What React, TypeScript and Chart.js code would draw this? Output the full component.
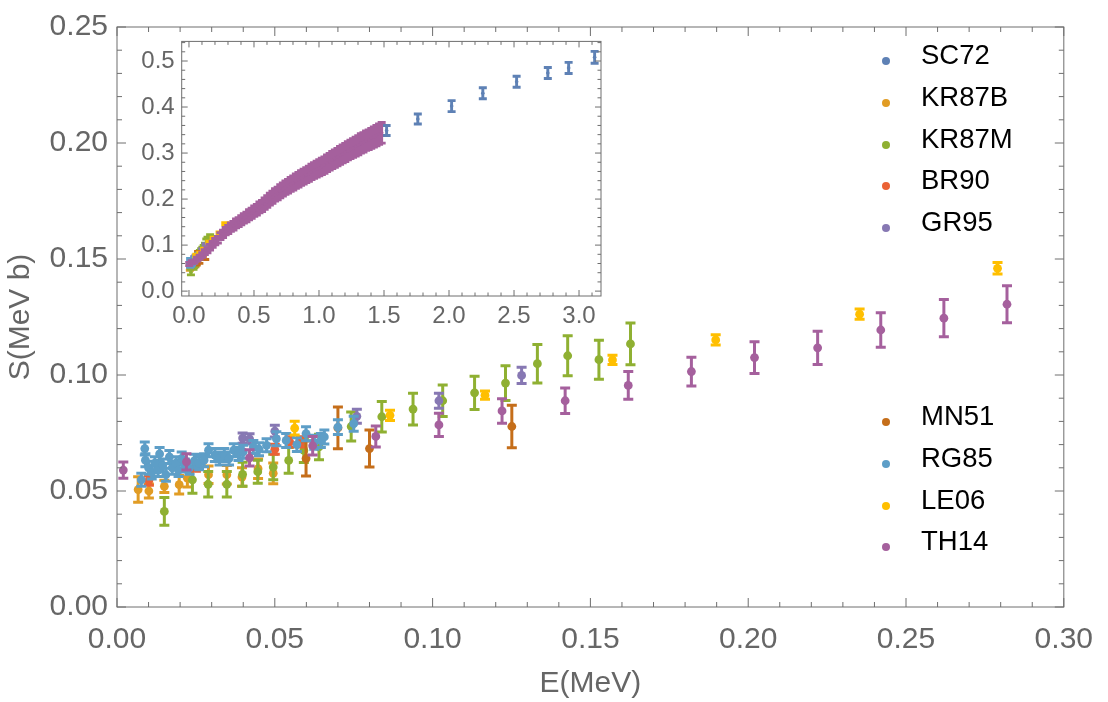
import React, { useEffect, useRef } from "react";
import { Chart, registerables } from "chart.js";
Chart.register(...registerables);

const FONT = '"Liberation Sans", Arial, Helvetica, sans-serif';

const seriesNames = ["SC72", "KR87B", "KR87M", "BR90", "GR95", "MN51", "RG85", "LE06", "TH14"];
const seriesColors = ["#5E81B5", "#E19C24", "#8FB032", "#EB6235", "#8778B3", "#C56E1A", "#5D9EC7", "#FFBF00", "#A5609D"];

const sc72E = [1.52, 1.76, 2.02, 2.26, 2.52, 2.76, 2.92, 3.12];
const sc72S = [0.349, 0.374, 0.402, 0.43, 0.455, 0.474, 0.485, 0.508];
const sc72Err = [0.011, 0.011, 0.012, 0.012, 0.012, 0.012, 0.012, 0.013];

const kr87bE = [0.0067, 0.0101, 0.015, 0.0197, 0.0223, 0.029, 0.0348, 0.0396, 0.0447, 0.0495];
const kr87bS = [0.0506, 0.05, 0.052, 0.0527, 0.0555, 0.057, 0.057, 0.056, 0.0596, 0.0576];
const kr87bErr = [0.0055, 0.003, 0.0026, 0.004, 0.0038, 0.0038, 0.004, 0.004, 0.0042, 0.0045];

const kr87mE = [0.015, 0.0239, 0.0289, 0.0348, 0.0398, 0.0446, 0.0495, 0.0544, 0.0592, 0.064, 0.0742, 0.0839, 0.0938, 0.1032, 0.1133, 0.1231, 0.1332, 0.1428, 0.1527, 0.1627];
const kr87mS = [0.0412, 0.0548, 0.0529, 0.0529, 0.0572, 0.0583, 0.0603, 0.0632, 0.0675, 0.069, 0.0778, 0.082, 0.0853, 0.0889, 0.0923, 0.0965, 0.1049, 0.1083, 0.1066, 0.1134];
const kr87mErr = [0.006, 0.0058, 0.0055, 0.0055, 0.0052, 0.005, 0.0055, 0.0055, 0.0052, 0.0055, 0.0062, 0.0066, 0.0068, 0.0068, 0.0072, 0.0075, 0.0083, 0.0086, 0.0084, 0.009];

const br90E = [0.0101, 0.025, 0.05, 0.0547, 0.0583];
const br90S = [0.0545, 0.0605, 0.068, 0.0712, 0.0712];
const br90Err = [0.002, 0.002, 0.0022, 0.0022, 0.0022];

const gr95E = [0.0398, 0.042, 0.05, 0.076, 0.102, 0.1282];
const gr95S = [0.0728, 0.0725, 0.0758, 0.0822, 0.0889, 0.0998];
const gr95Err = [0.0022, 0.0022, 0.0025, 0.003, 0.0032, 0.0035];

const mn51E = [0.0599, 0.07, 0.08, 0.1251];
const mn51S = [0.064, 0.0772, 0.0683, 0.0778];
const mn51Err = [0.0075, 0.009, 0.008, 0.0092];

const rg85E = [0.0077, 0.0088, 0.009, 0.01, 0.011, 0.012, 0.013, 0.0135, 0.0145, 0.0155, 0.0166, 0.0175, 0.0187, 0.0195, 0.0205, 0.0215, 0.023, 0.0245, 0.026, 0.0276, 0.029, 0.031, 0.0325, 0.034, 0.0355, 0.037, 0.0385, 0.04, 0.0432, 0.045, 0.0474, 0.0505, 0.0536, 0.057, 0.0599, 0.0625, 0.0646, 0.0657, 0.07, 0.075];
const rg85S = [0.0548, 0.0683, 0.0633, 0.06, 0.058, 0.062, 0.059, 0.066, 0.061, 0.057, 0.0647, 0.06, 0.062, 0.059, 0.064, 0.061, 0.06, 0.063, 0.062, 0.0633, 0.0676, 0.0655, 0.064, 0.0655, 0.064, 0.0676, 0.066, 0.0669, 0.069, 0.068, 0.0697, 0.0725, 0.0718, 0.07, 0.0747, 0.071, 0.0718, 0.0733, 0.0775, 0.079];
const rg85Err = [0.0028, 0.0028, 0.0028, 0.0028, 0.0028, 0.0028, 0.0028, 0.0028, 0.0028, 0.0028, 0.0028, 0.0028, 0.0028, 0.0028, 0.0028, 0.0028, 0.0028, 0.0028, 0.0028, 0.0028, 0.0028, 0.0028, 0.0028, 0.0028, 0.0028, 0.0028, 0.0028, 0.0028, 0.0028, 0.0028, 0.0028, 0.003, 0.003, 0.003, 0.003, 0.003, 0.003, 0.003, 0.0032, 0.0032];

const le06E = [0.0563, 0.0865, 0.1166, 0.157, 0.1897, 0.2353, 0.279];
const le06S = [0.0771, 0.0826, 0.0913, 0.1065, 0.1151, 0.1262, 0.146];
const le06Err = [0.003, 0.0022, 0.0018, 0.002, 0.0022, 0.0022, 0.0025];

const th14E = [0.002, 0.022, 0.042, 0.062, 0.082, 0.102, 0.122, 0.142, 0.162, 0.182, 0.202, 0.222, 0.242, 0.262, 0.282,
  0.302, 0.322, 0.342, 0.362, 0.382, 0.402, 0.422, 0.442, 0.462, 0.482, 0.502, 0.522, 0.542, 0.562, 0.582,
  0.602, 0.622, 0.642, 0.662, 0.682, 0.702, 0.722, 0.742, 0.762, 0.782, 0.802, 0.822, 0.842, 0.862, 0.882,
  0.902, 0.922, 0.942, 0.962, 0.982, 1.002,
  1.022, 1.042, 1.062, 1.082, 1.102, 1.122, 1.142, 1.162, 1.182, 1.202, 1.222, 1.242, 1.262, 1.282, 1.302, 1.322, 1.342, 1.362, 1.382, 1.402, 1.422, 1.442, 1.462, 1.482];
const th14S = [0.059, 0.0626, 0.0643, 0.0695, 0.0735, 0.0785, 0.0845, 0.0889, 0.0955, 0.1015, 0.1075, 0.1117, 0.1194, 0.1245, 0.1305,
  0.134, 0.139, 0.142, 0.147, 0.15, 0.154, 0.158, 0.161, 0.166, 0.169, 0.174, 0.177, 0.182, 0.185, 0.19,
  0.195, 0.2, 0.204, 0.209, 0.212, 0.217, 0.221, 0.225, 0.228, 0.232, 0.235, 0.239, 0.242, 0.246, 0.249,
  0.252, 0.255, 0.259, 0.262, 0.265, 0.268,
  0.271, 0.274, 0.278, 0.281, 0.285, 0.288, 0.291, 0.295, 0.298, 0.301, 0.305, 0.308, 0.311, 0.314, 0.317, 0.321, 0.323, 0.327, 0.329, 0.332, 0.335, 0.338, 0.341, 0.344];
const th14Err = [0.0035, 0.0035, 0.0035, 0.004, 0.0045, 0.005, 0.0053, 0.0055, 0.006, 0.0062, 0.0068, 0.0072, 0.0074, 0.008, 0.008,
  0.0088, 0.009, 0.0093, 0.0096, 0.0098, 0.01, 0.0103, 0.0105, 0.0108, 0.011, 0.0113, 0.0115, 0.0118, 0.012, 0.0123,
  0.0126, 0.0129, 0.0132, 0.0135, 0.0137, 0.014, 0.0143, 0.0146, 0.0148, 0.015, 0.0152, 0.0155, 0.0157, 0.0159, 0.0161,
  0.0163, 0.0165, 0.0168, 0.017, 0.0172, 0.0174,
  0.0176, 0.0178, 0.018, 0.0182, 0.0185, 0.0187, 0.0189, 0.0192, 0.0194, 0.0196, 0.0198, 0.02, 0.0202, 0.0204, 0.0206, 0.0208, 0.021, 0.0212, 0.0214, 0.0216, 0.0218, 0.022, 0.0222, 0.0224];

const mainXTicks = [0, 0.05, 0.1, 0.15, 0.2, 0.25, 0.3];
const mainYTicks = [0, 0.05, 0.1, 0.15, 0.2, 0.25];
const insetXTicks = [0, 0.5, 1, 1.5, 2, 2.5, 3];
const insetYTicks = [0, 0.1, 0.2, 0.3, 0.4, 0.5];

const seriesE = [sc72E, kr87bE, kr87mE, br90E, gr95E, mn51E, rg85E, le06E, th14E];
const seriesS = [sc72S, kr87bS, kr87mS, br90S, gr95S, mn51S, rg85S, le06S, th14S];
const seriesErr = [sc72Err, kr87bErr, kr87mErr, br90Err, gr95Err, mn51Err, rg85Err, le06Err, th14Err];

function makeDatasets(radius: number) {
  return seriesNames.map((name, i) => ({
    label: name,
    data: seriesE[i].map((x, j) => ({ x, y: seriesS[i][j], e: seriesErr[i][j] })),
    backgroundColor: seriesColors[i],
    borderColor: seriesColors[i],
    pointRadius: radius,
    pointHoverRadius: radius,
    pointBorderWidth: 0,
    showLine: false,
    order: seriesNames.length - 1 - i,
  }));
}

const errorBarPlugin = {
  id: "errbars",
  beforeDatasetDraw(chart: any, args: any, o: any) {
    const { ctx, chartArea: a, scales } = chart;
    const ys = scales.y;
    const ds = chart.data.datasets[args.index];
    ctx.save();
    ctx.beginPath();
    ctx.rect(a.left, a.top, a.right - a.left, a.bottom - a.top);
    ctx.clip();
    ctx.strokeStyle = ds.backgroundColor;
    ctx.lineWidth = o.lw;
    ctx.lineCap = "butt";
    ctx.beginPath();
    args.meta.data.forEach((pt: any, j: number) => {
      const d = ds.data[j];
      const x = pt.x;
      const y1 = ys.getPixelForValue(d.y + d.e);
      const y2 = ys.getPixelForValue(d.y - d.e);
      ctx.moveTo(x, y1);
      ctx.lineTo(x, y2);
      ctx.moveTo(x - o.cap, y1);
      ctx.lineTo(x + o.cap, y1);
      ctx.moveTo(x - o.cap, y2);
      ctx.lineTo(x + o.cap, y2);
    });
    ctx.stroke();
    ctx.restore();
  },
};

const framePlugin = {
  id: "frame",
  afterDraw(chart: any, _a: any, o: any) {
    const { ctx, chartArea: a, scales } = chart;
    const xs = scales.x;
    const ys = scales.y;
    ctx.save();
    ctx.strokeStyle = o.color;
    ctx.lineWidth = o.lw;
    ctx.strokeRect(a.left, a.top, a.right - a.left, a.bottom - a.top);
    ctx.beginPath();
    const xt = (v: number, len: number) => {
      const p = xs.getPixelForValue(v);
      if (p < a.left - 0.5 || p > a.right + 0.5) return;
      ctx.moveTo(p, a.bottom);
      ctx.lineTo(p, a.bottom - len);
      ctx.moveTo(p, a.top);
      ctx.lineTo(p, a.top + len);
    };
    const yt = (v: number, len: number) => {
      const p = ys.getPixelForValue(v);
      if (p < a.top - 0.5 || p > a.bottom + 0.5) return;
      ctx.moveTo(a.left, p);
      ctx.lineTo(a.left + len, p);
      ctx.moveTo(a.right, p);
      ctx.lineTo(a.right - len, p);
    };
    const isMajor = (v: number, step: number) => Math.abs(v / step - Math.round(v / step)) < 1e-6;
    o.xMajor.forEach((v: number) => xt(v, o.majorLen));
    o.yMajor.forEach((v: number) => yt(v, o.majorLen));
    for (let k = Math.ceil(xs.min / o.xMinor - 1e-9); k * o.xMinor <= xs.max + 1e-9; k++) {
      const v = k * o.xMinor;
      if (!isMajor(v, o.xStep)) xt(v, o.minorLen);
    }
    for (let k = Math.ceil(ys.min / o.yMinor - 1e-9); k * o.yMinor <= ys.max + 1e-9; k++) {
      const v = k * o.yMinor;
      if (!isMajor(v, o.yStep)) yt(v, o.minorLen);
    }
    ctx.stroke();
    ctx.restore();
  },
};

const noGrid = { display: false, drawTicks: false, tickLength: 0 };

function mainConfig(): any {
  return {
    type: "scatter",
    data: { datasets: makeDatasets(4.4) },
    plugins: [errorBarPlugin, framePlugin],
    options: {
      animation: false,
      responsive: false,
      events: [],
      layout: { padding: { left: 0, right: 32, top: 18, bottom: 0 } },
      plugins: {
        legend: { display: false },
        tooltip: { enabled: false },
        errbars: { cap: 5, lw: 3 },
        frame: { color: "#6e6e6e", lw: 1, majorLen: 9, minorLen: 5, xMajor: mainXTicks, yMajor: mainYTicks, xStep: 0.05, yStep: 0.05, xMinor: 0.01, yMinor: 0.01 },
      },
      scales: {
        x: {
          type: "linear",
          min: 0,
          max: 0.3,
          afterBuildTicks: (s: any) => { s.ticks = mainXTicks.map((v) => ({ value: v })); },
          afterFit: (s: any) => { s.height = 95; },
          grid: noGrid,
          border: { display: false },
          ticks: { color: "#666", font: { family: FONT, size: 30 }, padding: 15, autoSkip: false, maxRotation: 0, callback: (v: any) => Number(v).toFixed(2) },
          title: { display: true, text: "E(MeV)", color: "#666", font: { family: FONT, size: 30 }, padding: { top: 0, bottom: 0 } },
        },
        y: {
          type: "linear",
          min: 0,
          max: 0.25,
          afterBuildTicks: (s: any) => { s.ticks = mainYTicks.map((v) => ({ value: v })); },
          afterFit: (s: any) => { s.width = 117; },
          grid: noGrid,
          border: { display: false },
          ticks: { color: "#666", font: { family: FONT, size: 30 }, padding: 9, autoSkip: false, callback: (v: any) => Number(v).toFixed(2) },
          title: { display: true, text: "S(MeV b)", color: "#666", font: { family: FONT, size: 30 }, padding: { top: 3, bottom: 0 } },
        },
      },
    },
  };
}

function insetConfig(): any {
  return {
    type: "scatter",
    data: { datasets: makeDatasets(1.8) },
    plugins: [errorBarPlugin, framePlugin],
    options: {
      animation: false,
      responsive: false,
      events: [],
      layout: { padding: { left: 0, right: 9, top: 16, bottom: 0 } },
      plugins: {
        legend: { display: false },
        tooltip: { enabled: false },
        errbars: { cap: 4, lw: 2.9 },
        frame: { color: "#6e6e6e", lw: 1, majorLen: 6, minorLen: 3.5, xMajor: insetXTicks, yMajor: insetYTicks, xStep: 0.5, yStep: 0.1, xMinor: 0.1, yMinor: 0.02 },
      },
      scales: {
        x: {
          type: "linear",
          min: -0.056,
          max: 3.169,
          afterBuildTicks: (s: any) => { s.ticks = insetXTicks.map((v) => ({ value: v })); },
          afterFit: (s: any) => { s.height = 34; },
          grid: noGrid,
          border: { display: false },
          ticks: { color: "#666", font: { family: FONT, size: 24 }, padding: 6, autoSkip: false, maxRotation: 0, callback: (v: any) => Number(v).toFixed(1) },
        },
        y: {
          type: "linear",
          min: -0.0106,
          max: 0.5426,
          afterBuildTicks: (s: any) => { s.ticks = insetYTicks.map((v) => ({ value: v })); },
          afterFit: (s: any) => { s.width = 41.7; },
          grid: noGrid,
          border: { display: false },
          ticks: { color: "#666", font: { family: FONT, size: 24 }, padding: 7, autoSkip: false, callback: (v: any) => Number(v).toFixed(1) },
        },
      },
    },
  };
}

const legendGroup1 = [0, 1, 2, 3, 4];
const legendGroup2 = [5, 6, 7, 8];

export default function App() {
  const mainRef = useRef<HTMLCanvasElement>(null);
  const insetRef = useRef<HTMLCanvasElement>(null);
  useEffect(() => {
    const c1 = new Chart(mainRef.current as HTMLCanvasElement, mainConfig());
    const c2 = new Chart(insetRef.current as HTMLCanvasElement, insetConfig());
    return () => {
      c1.destroy();
      c2.destroy();
    };
  }, []);

  const legendItem = (idx: number, k: number, baseY: number) => {
    const cy = baseY + k * 41.8;
    return (
      <div key={seriesNames[idx]}>
        <div style={{ position: "absolute", left: 882, top: cy + 6 - 4, width: 8, height: 8, borderRadius: 4, background: seriesColors[idx] }} />
        <div style={{ position: "absolute", left: 921, top: cy - 16, height: 32, lineHeight: "32px", fontSize: 27.5, fontFamily: FONT, color: "#000", whiteSpace: "nowrap" }}>
          {seriesNames[idx]}
        </div>
      </div>
    );
  };

  return (
    <div style={{ position: "absolute", left: 0, top: 0, width: 1108, height: 702, background: "#fff", overflow: "hidden" }}>
      <canvas ref={mainRef} width={1108} height={702} style={{ position: "absolute", left: 0, top: 0, width: 1108, height: 702 }} />
      <canvas ref={insetRef} width={470} height={310} style={{ position: "absolute", left: 140, top: 20, width: 470, height: 310 }} />
      {legendGroup1.map((idx, k) => legendItem(idx, k, 55))}
      {legendGroup2.map((idx, k) => legendItem(idx, k, 416))}
    </div>
  );
}
